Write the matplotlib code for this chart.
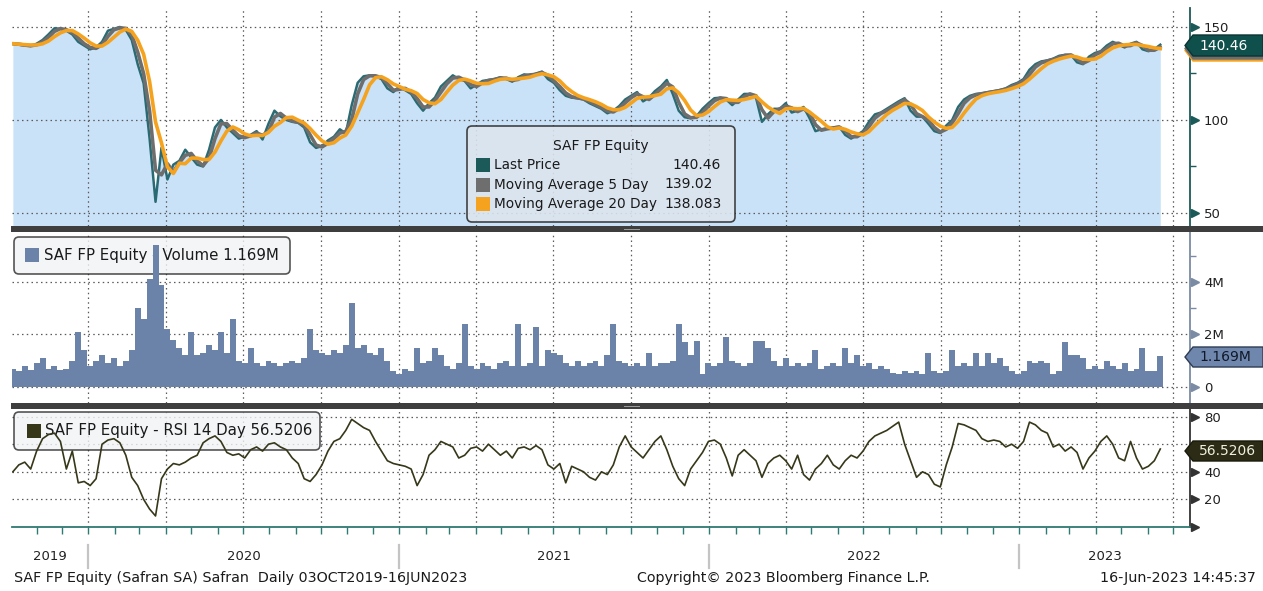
import numpy as np
import pandas as pd
import matplotlib
matplotlib.use("Agg")
import matplotlib.pyplot as plt
import matplotlib.dates as mdates
from matplotlib.patches import Rectangle, FancyBboxPatch, Polygon
from matplotlib.lines import Line2D
from matplotlib.transforms import blended_transform_factory

plt.rcParams['font.family'] = ['DejaVu Sans']

# weekly closes (03OCT2019 - 16JUN2023)
dates = pd.date_range('2019-10-04', '2023-06-16', freq='W-FRI')

price = [141, 140.5, 140, 139.8, 141, 143, 146, 149.3, 149, 148,
         146, 142, 140, 138, 139, 142, 148, 149, 150, 148.5,
         143, 130, 119.7, 90, 56, 85, 68, 76, 78, 84,
         80, 76, 75, 84, 96, 100, 96, 93, 90, 91,
         92, 94, 89.5, 98, 105, 102, 100, 99, 98.5, 96,
         88, 85, 86, 89, 91, 95, 92.7, 108, 120, 123.5,
         124, 123.5, 122, 117, 115, 118, 116, 114, 109, 105,
         109, 112, 118, 121, 124, 122, 121, 117, 119, 121,
         121.5, 122, 123, 122, 120.6, 123, 124.5, 124, 125, 126,
         122, 120, 116, 113, 112, 111.7, 111, 109, 107.5, 106,
         103.6, 105, 107.5, 111, 113, 115, 110, 112, 115.5, 118,
         121.5, 114, 105, 101.5, 100.9, 102, 106, 109, 111.7, 112,
         111, 108, 111, 114, 114, 112, 99, 103, 106, 106,
         109, 104, 105, 107, 101, 94, 95, 95.5, 96, 96.4,
         92, 90, 92, 94, 99, 103, 104, 106, 108, 110,
         111.7, 105, 101.8, 101.8, 98, 94, 93, 97, 100, 107,
         111, 113, 114, 114.3, 115, 115.5, 116.1, 117, 118.8, 120,
         122, 127, 130, 131.5, 132, 133, 134.5, 135, 134.9, 131,
         130, 134, 136, 137, 140, 142, 140.5, 139, 141, 142,
         138, 137, 138, 140.46]

volume_m = [0.7, 0.6, 0.8, 0.65, 0.9, 1.1, 0.7, 0.8, 0.65, 0.7,
            1.0, 2.1, 1.4, 0.8, 1.0, 1.2, 0.9, 1.1, 0.8, 1.0,
            1.4, 3.0, 2.6, 4.1, 5.4, 3.9, 2.2, 1.8, 1.5, 1.2,
            2.1, 1.2, 1.3, 1.6, 1.4, 2.1, 1.3, 2.6, 1.0, 0.9,
            1.5, 0.9, 0.8, 1.0, 0.9, 0.8, 0.9, 1.0, 0.9, 1.1,
            2.2, 1.4, 1.3, 1.2, 1.4, 1.3, 1.6, 3.2, 1.5, 1.6,
            1.3, 1.2, 1.5, 1.0, 0.6, 0.5, 0.7, 0.6, 1.5, 0.9,
            1.0, 1.5, 1.2, 0.8, 0.7, 0.9, 2.4, 0.8, 0.7, 0.9,
            0.8, 0.7, 0.9, 1.0, 0.8, 2.4, 0.8, 0.9, 2.3, 0.8,
            1.4, 1.3, 1.2, 0.9, 0.8, 1.0, 0.8, 0.9, 1.0, 0.8,
            1.2, 2.4, 1.0, 0.9, 0.8, 0.9, 0.8, 1.3, 0.8, 0.9,
            0.9, 1.0, 2.4, 1.7, 1.2, 1.75, 0.5, 0.9, 0.8, 0.9,
            1.9, 1.0, 0.9, 0.8, 0.9, 1.75, 1.75, 1.5, 1.0, 0.8,
            1.1, 0.8, 0.9, 0.8, 0.9, 1.4, 0.7, 0.8, 0.9, 0.8,
            1.5, 0.9, 1.2, 0.8, 0.9, 0.7, 0.8, 0.7, 0.55, 0.5,
            0.6, 0.55, 0.6, 0.5, 1.3, 0.6, 0.55, 0.6, 1.4, 0.8,
            0.9, 0.8, 1.3, 0.8, 1.3, 0.9, 1.1, 0.8, 0.6, 0.5,
            0.6, 1.0, 0.9, 1.0, 0.9, 0.5, 0.6, 1.7, 1.2, 1.2,
            1.1, 0.7, 0.8, 0.7, 1.0, 0.8, 0.7, 0.9, 0.6, 0.7,
            1.5, 0.6, 0.6, 1.169]

rsi = [40, 45, 47, 42, 55, 64, 67, 68, 62, 42,
       55, 32, 33, 30, 35, 60, 63, 64, 61, 52,
       36, 30, 20, 13, 8, 35, 42, 46, 45, 47,
       50, 52, 61, 64, 66, 62, 54, 52, 53, 50,
       56, 58, 55, 60, 61, 58, 56, 50, 46, 35,
       33, 38, 45, 55, 62, 64, 70, 78, 75, 72,
       70, 62, 55, 48, 46, 45, 44, 42, 30, 38,
       52, 56, 62, 60, 58, 50, 52, 57, 58, 55,
       60, 56, 52, 55, 50, 57, 58, 56, 59, 56,
       45, 42, 46, 32, 44, 42, 40, 36, 34, 40,
       38, 45, 58, 66, 58, 54, 50, 56, 62, 66,
       56, 44, 35, 30, 42, 48, 54, 62, 63, 60,
       50, 37, 52, 56, 52, 48, 36, 46, 50, 52,
       48, 42, 52, 38, 34, 42, 46, 52, 45, 42,
       48, 52, 50, 55, 62, 66, 68, 70, 73, 76,
       60, 48, 36, 40, 38, 31, 29, 45, 58, 75,
       74, 72, 70, 64, 62, 63, 62, 58, 60, 57,
       62, 76, 74, 70, 68, 58, 60, 55, 58, 54,
       42, 50, 55, 62, 66, 60, 50, 48, 62, 50,
       42, 44, 48, 56.52]

last_price = "140.46"
ma5_last = "139.02"
ma20_last = "138.083"
vol_last = "1.169M"
rsi_last = "56.5206"
years = [2019, 2020, 2021, 2022, 2023]

ma5 = pd.Series(price).rolling(2, min_periods=1).mean()
ma20 = pd.Series(price).rolling(4, min_periods=1).mean()

TEAL = '#1b5a58'
GRAY = '#6e6e6e'
ORANGE = '#f5a21f'
FILL = '#c9e2f8'
VOLC = '#6b83a8'
RSIC = '#37371a'
GRID = dict(color='#5a5a5a', linestyle=(0, (1.2, 2.6)), linewidth=0.9)

W, H = 1263, 591
fig = plt.figure(figsize=(W / 100, H / 100), dpi=100)
fig.patch.set_facecolor('white')


def box(l, t, r, b):
    return [l / W, 1 - b / H, (r - l) / W, (b - t) / H]


def fx(x):
    return x / W


def fy(y):
    return 1 - y / H


ax1 = fig.add_axes(box(12, 8, 1190, 226))
ax2 = fig.add_axes(box(12, 232, 1190, 403))
ax3 = fig.add_axes(box(12, 409, 1190, 527))

x0, x1 = pd.Timestamp('2019-10-03'), pd.Timestamp('2023-07-21')
for ax in (ax1, ax2, ax3):
    ax.set_xlim(x0, x1)
    ax.xaxis.set_major_locator(mdates.MonthLocator(bymonth=[1, 4, 7, 10]))
    ax.xaxis.set_minor_locator(mdates.MonthLocator())
    ax.grid(True, which='major', **GRID)
    for s in ('top', 'left', 'bottom'):
        ax.spines[s].set_visible(False)
    ax.yaxis.tick_right()
    ax.tick_params(axis='y', which='major', length=0, pad=10, labelsize=9.5, labelcolor='#202020')
    ax.tick_params(axis='y', which='minor', length=4, width=1, direction='out')
    ax.tick_params(axis='x', which='both', labelbottom=False, length=0)

# price panel
ax1.fill_between(dates, price, 0, color=FILL, lw=0, zorder=1)
ax1.plot(dates, price, color='#2a6b73', lw=1.8, zorder=3)
ax1.plot(dates, ma5, color=GRAY, lw=2.6, zorder=4, solid_capstyle='round')
ax1.plot(dates, ma20, color=ORANGE, lw=2.6, zorder=5)
ax1.set_ylim(43, 160.2)
ax1.set_yticks([50, 100, 150])
ax1.set_yticks([75, 125], minor=True)
ax1.spines['right'].set_color(TEAL)
ax1.spines['right'].set_linewidth(1.3)
ax1.tick_params(axis='y', which='minor', color=TEAL)

# volume panel
ax2.bar(dates, volume_m, width=7, color=VOLC, lw=0, zorder=2)
ax2.set_ylim(-0.61, 5.9)
ax2.set_yticks([0, 2, 4])
ax2.set_yticklabels(['0', '2M', '4M'])
ax2.set_yticks([1, 3, 5], minor=True)
ax2.spines['right'].set_color('#7b8ba3')
ax2.spines['right'].set_linewidth(1.3)
ax2.tick_params(axis='y', which='minor', color='#7b8ba3')

# rsi panel
ax3.plot(dates, rsi, color=RSIC, lw=1.2, zorder=3)
ax3.set_ylim(0, 85.5)
ax3.set_yticks([0, 20, 40, 60, 80])
ax3.set_yticklabels(['', '20', '40', '', '80'])
ax3.spines['right'].set_color('#333333')
ax3.spines['right'].set_linewidth(1.3)
ax3.spines['bottom'].set_visible(True)
ax3.spines['bottom'].set_color('#2f7a72')
ax3.spines['bottom'].set_linewidth(1.3)
ax3.tick_params(axis='x', which='both', length=5, width=1, color='#2f7a72', direction='out')

# arrow markers at labelled ticks
for ax, vals, col in ((ax1, [50, 100, 150], TEAL), (ax2, [0, 2, 4], '#7b8ba3'),
                      (ax3, [0, 20, 40, 80], '#333333')):
    tr = blended_transform_factory(ax.transAxes, ax.transData)
    ax.plot([1.0045] * len(vals), vals, ls='none', marker='>', ms=5.5, color=col,
            transform=tr, clip_on=False, zorder=6)

# separator bars
for yb in (226, 403):
    fig.add_artist(Rectangle((fx(11), fy(yb + 6)), (W - 11) / W, 6 / H,
                             transform=fig.transFigure, color='#3e3e3e', lw=0))
    fig.add_artist(Rectangle((fx(624), fy(yb + 3.5)), 16 / W, 1 / H,
                             transform=fig.transFigure, color='#9a9a9a', lw=0))


def legend_box(ax, l, t, r, b, face, alpha):
    p = FancyBboxPatch((fx(l), fy(b)), (r - l) / W, (b - t) / H,
                       boxstyle='round,pad=0,rounding_size=0.004', mutation_aspect=W / H,
                       transform=fig.transFigure, facecolor=face, edgecolor='#2b2b2b',
                       lw=1.2, alpha=alpha, zorder=1.6)
    ax.add_patch(p)
    p.set_clip_on(False)


def swatch(ax, x, yc, col, size=14):
    r = Rectangle((fx(x), fy(yc + size / 2)), size / W, size / H, transform=fig.transFigure,
                  color=col, lw=0, zorder=1.7)
    ax.add_patch(r)
    r.set_clip_on(False)


# price legend
legend_box(ax1, 467, 126, 735, 222, '#dde5ee', 0.88)
ax1.text(fx(601), fy(146), 'SAF FP Equity', transform=fig.transFigure, ha='center',
         va='center', fontsize=10, color='#1a1a1a', zorder=1.8)
rows = [('Last Price', TEAL, last_price, 672), ('Moving Average 5 Day', GRAY, ma5_last, 664),
        ('Moving Average 20 Day', ORANGE, ma20_last, 664)]
for k, (lab, col, val, vx) in enumerate(rows):
    yc = 165 + 19.5 * k
    swatch(ax1, 476, yc, col)
    ax1.text(fx(494), fy(yc), lab, transform=fig.transFigure, va='center', fontsize=9.8,
             color='#1a1a1a', zorder=1.8)
    ax1.text(fx(vx), fy(yc), val, transform=fig.transFigure, va='center', fontsize=10,
             color='#1a1a1a', zorder=1.8)

# volume legend
legend_box(ax2, 14, 237, 290, 274, '#f1f3f6', 0.8)
swatch(ax2, 25, 255.5, VOLC)
ax2.text(fx(44), fy(255.5), 'SAF FP Equity - Volume ' + vol_last, transform=fig.transFigure,
         va='center', fontsize=10.8, color='#1a1a1a', zorder=1.8)

# rsi legend
legend_box(ax3, 14, 412, 320, 450, '#f1f3f6', 0.8)
swatch(ax3, 27, 431, RSIC)
ax3.text(fx(45), fy(431), 'SAF FP Equity - RSI 14 Day ' + rsi_last, transform=fig.transFigure,
         va='center', fontsize=10.8, color='#1a1a1a', zorder=1.8)


# last value tags on the right axis
def tag(t, b, face, edge, txt, tcol):
    m = (t + b) / 2
    pts = [(1185, m), (1193, t), (1263, t), (1263, b), (1193, b)]
    fig.add_artist(Polygon([(fx(a), fy(c)) for a, c in pts], closed=True,
                           transform=fig.transFigure, facecolor=face, edgecolor=edge, lw=1))
    if txt:
        fig.text(fx(1199), fy(m), txt, va='center', ha='left', fontsize=10, color=tcol)


tag(40, 61, ORANGE, ORANGE, '', None)
tag(38, 59, GRAY, GRAY, '', None)
tag(35, 56, '#0f4f4c', '#0a3432', last_price, 'white')
tag(347, 367, '#6f87ad', '#2e3b52', vol_last, '#101828')
tag(441, 461, '#2c2b15', '#1a1a0c', rsi_last, '#f0f0e0')

# year labels and separators under the time axis
sep = blended_transform_factory(ax3.transData, fig.transFigure)
bounds = [x0] + [pd.Timestamp(f'{y}-01-01') for y in years[1:]] + [x1]
for k, y in enumerate(years):
    mid = bounds[k] + (bounds[k + 1] - bounds[k]) / 2
    ax3.text(mid, fy(557), str(y), transform=sep, ha='center', va='center', fontsize=9.5,
             color='#222222', clip_on=False)
    if k > 0:
        ln = Line2D([bounds[k], bounds[k]], [fy(545), fy(568)], transform=sep,
                    color='#c4c4c4', lw=1.6, clip_on=False)
        ax3.add_line(ln)

# footer
fig.text(fx(14), fy(578), 'SAF FP Equity (Safran SA) Safran  Daily 03OCT2019-16JUN2023',
         va='center', ha='left', fontsize=10.3, color='#1a1a1a')
fig.text(fx(637), fy(578), 'Copyright\u00a9 2023 Bloomberg Finance L.P.',
         va='center', ha='left', fontsize=10.3, color='#1a1a1a')
fig.text(fx(1256), fy(578), '16-Jun-2023 14:45:37', va='center', ha='right',
         fontsize=10.3, color='#1a1a1a')

fig.savefig('out.png', dpi=100)
